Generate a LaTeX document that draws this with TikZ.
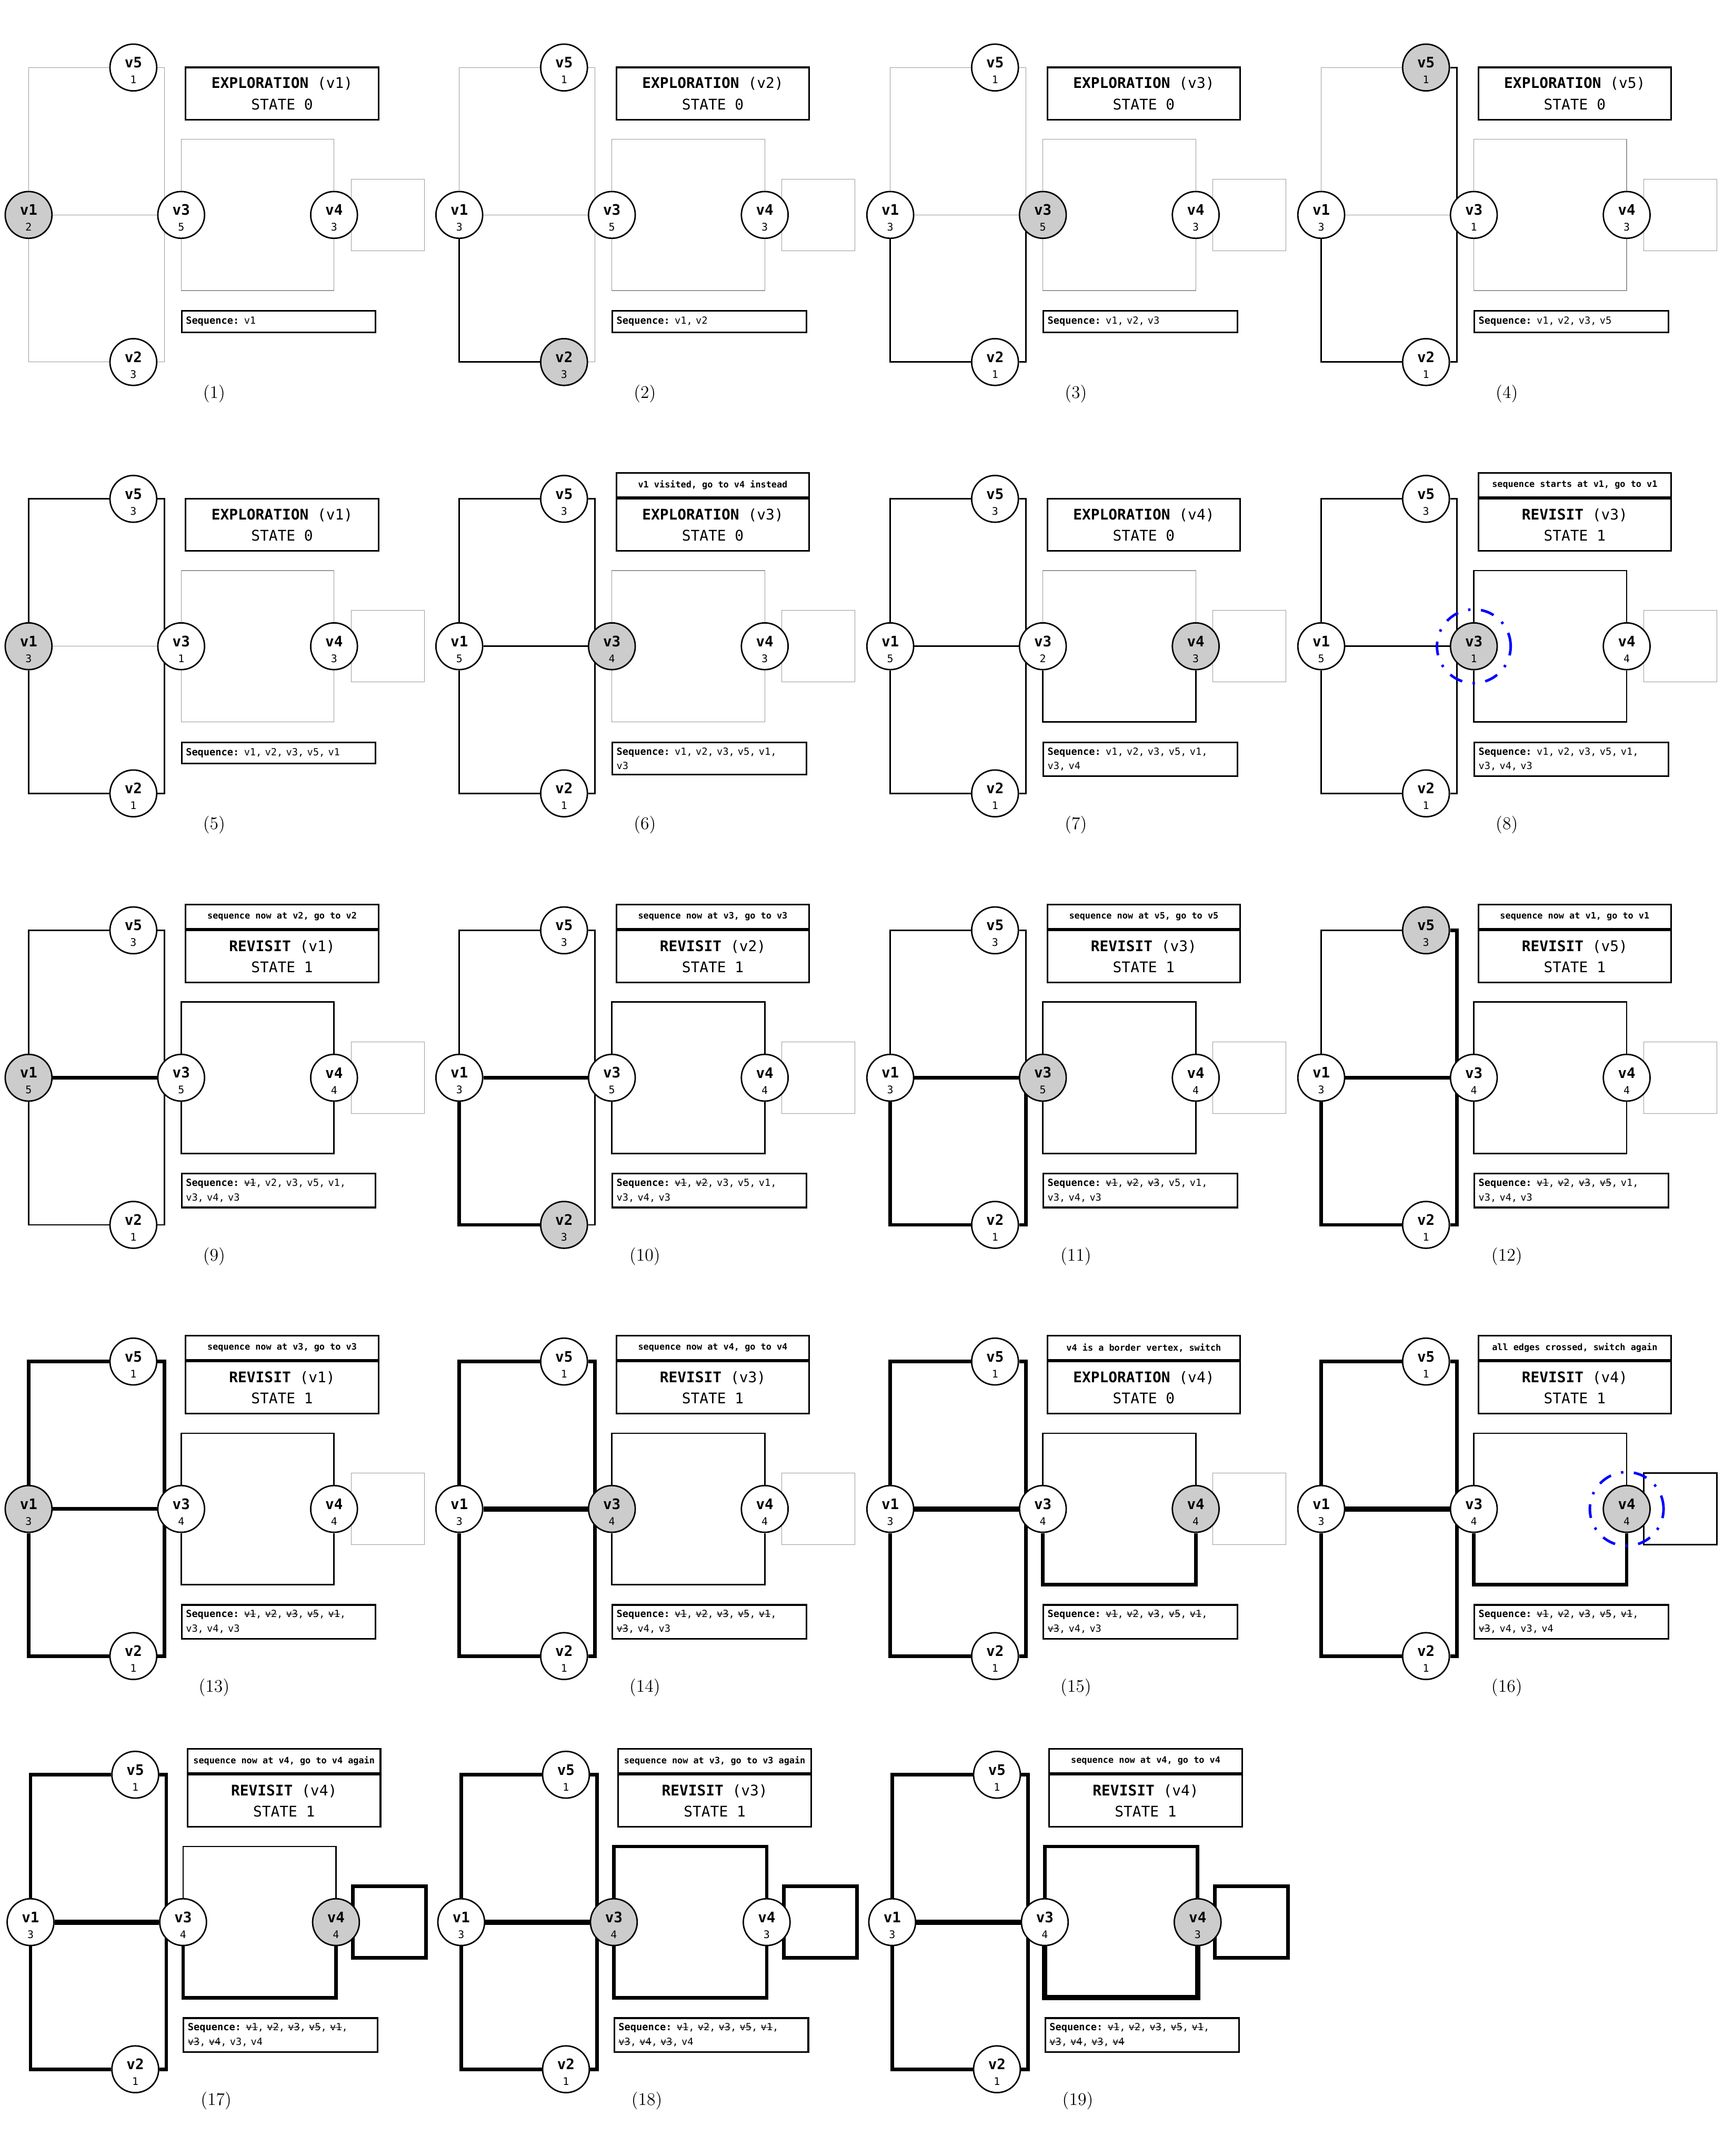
\documentclass[tikz,border=0pt]{standalone}
\usepackage{fontspec}
\setmonofont{DejaVu Sans Mono}
\usepackage{tikz}
\usetikzlibrary{calc}
\pgfdeclarelayer{edges}
\pgfsetlayers{edges,main}

\newcommand{\vname}[1]{\rule{0pt}{10.2pt}\textbf{#1}}
\newcommand{\vcount}[1]{{\fontsize{6.5}{9.8}\selectfont #1}}
\newcommand{\gone}[1]{\leavevmode\rlap{\rule[0.3em]{1.204em}{0.4pt}}#1}

\tikzset{
  vtx/.style={circle, draw, line width=0.9pt, fill=white, minimum size=1.02cm, inner sep=0pt, align=center, font=\ttfamily\fontsize{9}{9.8}\selectfont},
  cur/.style={fill=black!20},
  f1/.style={}, f2/.style={}, f3/.style={}, f4/.style={}, f5/.style={},
  free/.style={draw=black!40, line width=0.4pt},
  used/.style={draw=black, line width=0.9pt},
  done/.style={draw=black, line width=2.2pt},
  twice/.style={draw=black, line width=3.2pt},
  e15/.style={free}, e12/.style={free}, e13/.style={free}, e35/.style={free},
  e23/.style={free}, top34/.style={free}, bot34/.style={free}, e44/.style={free},
  statebox/.style={draw, line width=1pt, minimum width=4.21cm, minimum height=1.14cm, inner sep=0pt, align=center, font=\ttfamily\fontsize{9.1}{13.2}\selectfont},
  notebox/.style={draw, line width=1pt, minimum width=4.21cm, minimum height=0.525cm, inner sep=0pt, anchor=south, font=\ttfamily\bfseries\fontsize{5.5}{6}\selectfont},
  seqbox/.style={draw, line width=1pt, anchor=north west, text width=4.05cm, inner xsep=2.6pt, inner ysep=3.3pt, minimum height=0.465cm, align=left, font=\ttfamily\fontsize{6.1}{9}\selectfont},
  visit/.style={draw=blue, line width=1.6pt, dash pattern=on 8.5pt off 6.5pt on 1.5pt off 6.5pt},
  tag/.style={font=\fontsize{11}{12}\selectfont}
}

% graph of one step: counts of v1..v5
\newcommand{\vgraph}[5]{%
  \node[vtx, f1] (v1) at (0,0) {\vname{v1}\\\vcount{#1}};
  \node[vtx, f5] (v5) at (76.2,107.2) {\vname{v5}\\\vcount{#5}};
  \node[vtx, f2] (v2) at (76.2,-107) {\vname{v2}\\\vcount{#2}};
  \node[vtx, f3] (v3) at (111,0) {\vname{v3}\\\vcount{#3}};
  \node[vtx, f4] (v4) at (222.2,0) {\vname{v4}\\\vcount{#4}};
  \coordinate (j) at (98.8,0);
  \begin{pgfonlayer}{edges}
    \draw[e15] (v1) |- (v5);
    \draw[e12] (v1) |- (v2);
    \draw[e13] (v1) -- (v3);
    \draw[e35] (v5) -| (j);
    \draw[e23] (v2) -| (j);
    \draw[top34] (v3) -- ++(0,55) -| (v4);
    \draw[bot34] (v3) -- ++(0,-55) -| (v4);
    \draw[e44] ($(v4)+(12.4,26)$) rectangle ($(v4)+(65.6,-26)$);
  \end{pgfonlayer}
}
\newcommand{\stateinfo}[2]{%
  \node[statebox] (state) at (184.4,88.3) {#1};
  \node[seqbox] (seq) at (110.8,-69.2) {#2};
}

\begin{document}
\begin{tikzpicture}[x=0.03cm, y=0.03cm, line join=miter]
  \useasboundingbox (0,0) rectangle (1254,-1568);

  % row 1
  \begin{scope}[shift={(20.8,-156.3)}, name prefix=p1-, f1/.style={cur}]
    \vgraph{2}{3}{5}{3}{1}
    \stateinfo{\textbf{EXPLORATION} (v1)\\STATE 0}{\textbf{Sequence:} v1}
    \node[tag] (tag) at (135,-130) {(1)};
  \end{scope}
  \begin{scope}[shift={(334.1,-156.3)}, name prefix=p2-, f2/.style={cur}, e12/.style={used}]
    \vgraph{3}{3}{5}{3}{1}
    \stateinfo{\textbf{EXPLORATION} (v2)\\STATE 0}{\textbf{Sequence:} v1, v2}
    \node[tag] (tag) at (135,-130) {(2)};
  \end{scope}
  \begin{scope}[shift={(647.6,-156.3)}, name prefix=p3-, f3/.style={cur}, e12/.style={used}, e23/.style={used}]
    \vgraph{3}{1}{5}{3}{1}
    \stateinfo{\textbf{EXPLORATION} (v3)\\STATE 0}{\textbf{Sequence:} v1, v2, v3}
    \node[tag] (tag) at (135,-130) {(3)};
  \end{scope}
  \begin{scope}[shift={(961.1,-156.3)}, name prefix=p4-, f5/.style={cur}, e12/.style={used}, e23/.style={used}, e35/.style={used}]
    \vgraph{3}{1}{1}{3}{1}
    \stateinfo{\textbf{EXPLORATION} (v5)\\STATE 0}{\textbf{Sequence:} v1, v2, v3, v5}
    \node[tag] (tag) at (135,-130) {(4)};
  \end{scope}

  % row 2
  \begin{scope}[shift={(20.8,-470)}, name prefix=p5-, f1/.style={cur}, e12/.style={used}, e23/.style={used}, e35/.style={used}, e15/.style={used}]
    \vgraph{3}{1}{1}{3}{3}
    \stateinfo{\textbf{EXPLORATION} (v1)\\STATE 0}{\textbf{Sequence:} v1, v2, v3, v5, v1}
    \node[tag] (tag) at (135,-130) {(5)};
  \end{scope}
  \begin{scope}[shift={(334.1,-470)}, name prefix=p6-, f3/.style={cur}, e12/.style={used}, e23/.style={used}, e35/.style={used}, e15/.style={used}, e13/.style={used}]
    \vgraph{5}{1}{4}{3}{3}
    \stateinfo{\textbf{EXPLORATION} (v3)\\STATE 0}{\textbf{Sequence:} v1, v2, v3, v5, v1,\\v3}
    \node[notebox] (note) at (state.north) {v1 visited, go to v4 instead};
    \node[tag] (tag) at (135,-130) {(6)};
  \end{scope}
  \begin{scope}[shift={(647.6,-470)}, name prefix=p7-, f4/.style={cur}, e12/.style={used}, e23/.style={used}, e35/.style={used}, e15/.style={used}, e13/.style={used}, bot34/.style={used}]
    \vgraph{5}{1}{2}{3}{3}
    \stateinfo{\textbf{EXPLORATION} (v4)\\STATE 0}{\textbf{Sequence:} v1, v2, v3, v5, v1,\\v3, v4}
    \node[tag] (tag) at (135,-130) {(7)};
  \end{scope}
  \begin{scope}[shift={(961.1,-470)}, name prefix=p8-, f3/.style={cur}, e12/.style={used}, e23/.style={used}, e35/.style={used}, e15/.style={used}, e13/.style={used}, bot34/.style={used}, top34/.style={used}]
    \vgraph{5}{1}{1}{4}{3}
    \stateinfo{\textbf{REVISIT} (v3)\\STATE 1}{\textbf{Sequence:} v1, v2, v3, v5, v1,\\v3, v4, v3}
    \node[notebox] (note) at (state.north) {sequence starts at v1, go to v1};
    \draw[visit] (v3) circle[radius=0.804cm];
    \node[tag] (tag) at (135,-130) {(8)};
  \end{scope}

  % row 3
  \begin{scope}[shift={(20.8,-783.8)}, name prefix=p9-, f1/.style={cur}, e12/.style={used}, e23/.style={used}, e35/.style={used}, e15/.style={used}, e13/.style={done}, bot34/.style={used}, top34/.style={used}]
    \vgraph{5}{1}{5}{4}{3}
    \stateinfo{\textbf{REVISIT} (v1)\\STATE 1}{\textbf{Sequence:} \gone{v1}, v2, v3, v5, v1,\\v3, v4, v3}
    \node[notebox] (note) at (state.north) {sequence now at v2, go to v2};
    \node[tag] (tag) at (135,-130) {(9)};
  \end{scope}
  \begin{scope}[shift={(334.1,-783.8)}, name prefix=p10-, f2/.style={cur}, e12/.style={done}, e23/.style={used}, e35/.style={used}, e15/.style={used}, e13/.style={done}, bot34/.style={used}, top34/.style={used}]
    \vgraph{3}{3}{5}{4}{3}
    \stateinfo{\textbf{REVISIT} (v2)\\STATE 1}{\textbf{Sequence:} \gone{v1}, \gone{v2}, v3, v5, v1,\\v3, v4, v3}
    \node[notebox] (note) at (state.north) {sequence now at v3, go to v3};
    \node[tag] (tag) at (135,-130) {(10)};
  \end{scope}
  \begin{scope}[shift={(647.6,-783.8)}, name prefix=p11-, f3/.style={cur}, e12/.style={done}, e23/.style={done}, e35/.style={used}, e15/.style={used}, e13/.style={done}, bot34/.style={used}, top34/.style={used}]
    \vgraph{3}{1}{5}{4}{3}
    \stateinfo{\textbf{REVISIT} (v3)\\STATE 1}{\textbf{Sequence:} \gone{v1}, \gone{v2}, \gone{v3}, v5, v1,\\v3, v4, v3}
    \node[notebox] (note) at (state.north) {sequence now at v5, go to v5};
    \node[tag] (tag) at (135,-130) {(11)};
  \end{scope}
  \begin{scope}[shift={(961.1,-783.8)}, name prefix=p12-, f5/.style={cur}, e12/.style={done}, e23/.style={done}, e35/.style={done}, e15/.style={used}, e13/.style={done}, bot34/.style={used}, top34/.style={used}]
    \vgraph{3}{1}{4}{4}{3}
    \stateinfo{\textbf{REVISIT} (v5)\\STATE 1}{\textbf{Sequence:} \gone{v1}, \gone{v2}, \gone{v3}, \gone{v5}, v1,\\v3, v4, v3}
    \node[notebox] (note) at (state.north) {sequence now at v1, go to v1};
    \node[tag] (tag) at (135,-130) {(12)};
  \end{scope}

  % row 4
  \begin{scope}[shift={(20.8,-1097.4)}, name prefix=p13-, f1/.style={cur}, e12/.style={done}, e23/.style={done}, e35/.style={done}, e15/.style={done}, e13/.style={done}, bot34/.style={used}, top34/.style={used}]
    \vgraph{3}{1}{4}{4}{1}
    \stateinfo{\textbf{REVISIT} (v1)\\STATE 1}{\textbf{Sequence:} \gone{v1}, \gone{v2}, \gone{v3}, \gone{v5}, \gone{v1},\\v3, v4, v3}
    \node[notebox] (note) at (state.north) {sequence now at v3, go to v3};
    \node[tag] (tag) at (135,-130) {(13)};
  \end{scope}
  \begin{scope}[shift={(334.1,-1097.4)}, name prefix=p14-, f3/.style={cur}, e12/.style={done}, e23/.style={done}, e35/.style={done}, e15/.style={done}, e13/.style={twice}, bot34/.style={used}, top34/.style={used}]
    \vgraph{3}{1}{4}{4}{1}
    \stateinfo{\textbf{REVISIT} (v3)\\STATE 1}{\textbf{Sequence:} \gone{v1}, \gone{v2}, \gone{v3}, \gone{v5}, \gone{v1},\\\gone{v3}, v4, v3}
    \node[notebox] (note) at (state.north) {sequence now at v4, go to v4};
    \node[tag] (tag) at (135,-130) {(14)};
  \end{scope}
  \begin{scope}[shift={(647.6,-1097.4)}, name prefix=p15-, f4/.style={cur}, e12/.style={done}, e23/.style={done}, e35/.style={done}, e15/.style={done}, e13/.style={twice}, bot34/.style={done}, top34/.style={used}]
    \vgraph{3}{1}{4}{4}{1}
    \stateinfo{\textbf{EXPLORATION} (v4)\\STATE 0}{\textbf{Sequence:} \gone{v1}, \gone{v2}, \gone{v3}, \gone{v5}, \gone{v1},\\\gone{v3}, v4, v3}
    \node[notebox] (note) at (state.north) {v4 is a border vertex, switch};
    \node[tag] (tag) at (135,-130) {(15)};
  \end{scope}
  \begin{scope}[shift={(961.1,-1097.4)}, name prefix=p16-, f4/.style={cur}, e12/.style={done}, e23/.style={done}, e35/.style={done}, e15/.style={done}, e13/.style={twice}, bot34/.style={done}, top34/.style={used}, e44/.style={used}]
    \vgraph{3}{1}{4}{4}{1}
    \stateinfo{\textbf{REVISIT} (v4)\\STATE 1}{\textbf{Sequence:} \gone{v1}, \gone{v2}, \gone{v3}, \gone{v5}, \gone{v1},\\\gone{v3}, v4, v3, v4}
    \node[notebox] (note) at (state.north) {all edges crossed, switch again};
    \draw[visit] (v4) circle[radius=0.804cm];
    \node[tag] (tag) at (135,-130) {(16)};
  \end{scope}

  % row 5
  \begin{scope}[shift={(22.2,-1397.9)}, name prefix=p17-, f4/.style={cur}, e12/.style={done}, e23/.style={done}, e35/.style={done}, e15/.style={done}, e13/.style={twice}, bot34/.style={done}, top34/.style={used}, e44/.style={done}]
    \vgraph{3}{1}{4}{4}{1}
    \stateinfo{\textbf{REVISIT} (v4)\\STATE 1}{\textbf{Sequence:} \gone{v1}, \gone{v2}, \gone{v3}, \gone{v5}, \gone{v1},\\\gone{v3}, \gone{v4}, v3, v4}
    \node[notebox] (note) at (state.north) {sequence now at v4, go to v4 again};
    \node[tag] (tag) at (135,-130) {(17)};
  \end{scope}
  \begin{scope}[shift={(335.5,-1397.9)}, name prefix=p18-, f3/.style={cur}, e12/.style={done}, e23/.style={done}, e35/.style={done}, e15/.style={done}, e13/.style={twice}, bot34/.style={done}, top34/.style={done}, e44/.style={done}]
    \vgraph{3}{1}{4}{3}{1}
    \stateinfo{\textbf{REVISIT} (v3)\\STATE 1}{\textbf{Sequence:} \gone{v1}, \gone{v2}, \gone{v3}, \gone{v5}, \gone{v1},\\\gone{v3}, \gone{v4}, \gone{v3}, v4}
    \node[notebox] (note) at (state.north) {sequence now at v3, go to v3 again};
    \node[tag] (tag) at (135,-130) {(18)};
  \end{scope}
  \begin{scope}[shift={(649,-1397.9)}, name prefix=p19-, f4/.style={cur}, e12/.style={done}, e23/.style={done}, e35/.style={done}, e15/.style={done}, e13/.style={twice}, bot34/.style={twice}, top34/.style={done}, e44/.style={done}]
    \vgraph{3}{1}{4}{3}{1}
    \stateinfo{\textbf{REVISIT} (v4)\\STATE 1}{\textbf{Sequence:} \gone{v1}, \gone{v2}, \gone{v3}, \gone{v5}, \gone{v1},\\\gone{v3}, \gone{v4}, \gone{v3}, \gone{v4}}
    \node[notebox] (note) at (state.north) {sequence now at v4, go to v4};
    \node[tag] (tag) at (135,-130) {(19)};
  \end{scope}
\end{tikzpicture}
\end{document}
